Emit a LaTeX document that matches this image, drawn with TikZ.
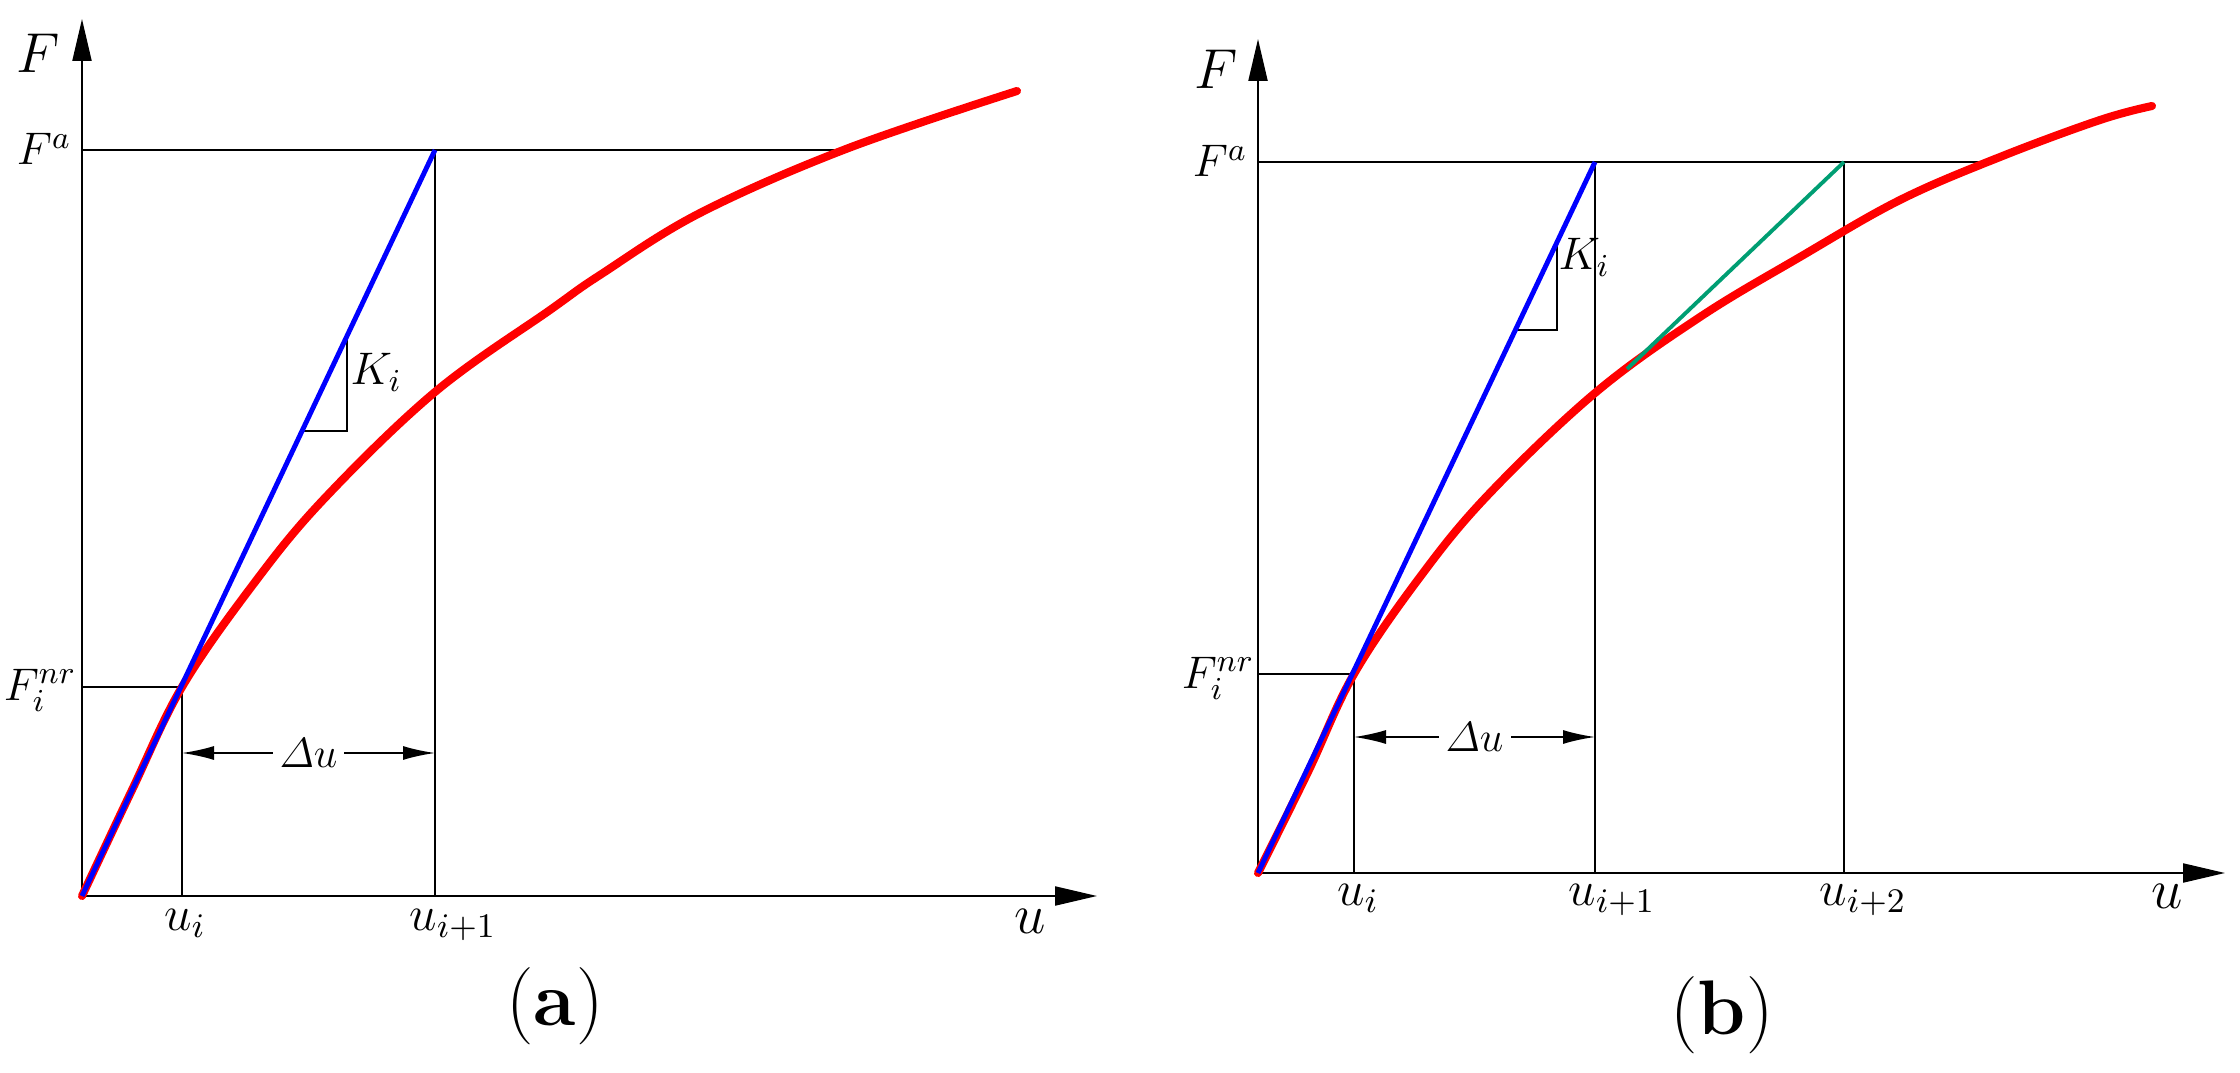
\documentclass[tikz,border=0pt]{standalone}
\usepackage{fix-cm}
\usepackage{amsmath}
\usepackage{xcolor}
\definecolor{rred}{HTML}{FF0000}
\definecolor{bblue}{HTML}{0000FF}
\definecolor{ggreen}{HTML}{009E73}
\usepackage{tikz}
\usetikzlibrary{arrows.meta}
\usetikzlibrary{positioning}

\tikzset{
  axis/.style={line width=0.6pt,-{Triangle[length=4.2mm,width=1.9mm]}},
  guide/.style={line width=0.5pt},
  dimline/.style={line width=0.5pt,{Latex[length=3.2mm,width=1.4mm]}-{Latex[length=3.2mm,width=1.4mm]}},
  curve/.style={rred,line width=2.3pt,line cap=round},
  tangent/.style={bblue,line width=1.4pt},
  secant/.style={ggreen,line width=1.1pt},
  lbl/.style={font=\fontsize{13}{15}\selectfont,inner sep=0pt},
  ulbl/.style={font=\fontsize{14}{16}\selectfont,inner sep=0pt,anchor=base},
  big/.style={font=\fontsize{16}{18}\selectfont,inner sep=0pt,anchor=base east},
  paneltag/.style={font=\fontsize{22}{24}\selectfont,inner sep=0pt,anchor=base},
}

\begin{document}
\begin{tikzpicture}[x=0.1mm,y=0.1mm]
\useasboundingbox (0,0) rectangle (2240,1072);

% (a)
\begin{scope}[shift={(82,176)}]
\coordinate (oa) at (0,0);
\coordinate (ya) at (0,877);
\coordinate (xa) at (1015,0);
\coordinate (uia) at (100,0);
\coordinate (pia) at (100,209);
\coordinate (fia) at (0,209);
\coordinate (uja) at (353,0);
\coordinate (tipa) at (353,746);
\coordinate (faa) at (0,746);
\coordinate (fenda) at (764,746);
\coordinate (dla) at (100,143);
\coordinate (dra) at (353,143);
\draw[axis] (oa) -- (ya);
\draw[axis] (oa) -- (xa);
\draw[guide] (faa) -- (fenda);
\draw[guide] (fia) -- (pia) -- (uia);
\draw[guide] (tipa) -- (uja);
\draw[guide] (220,465) -- (265,465) -- (265,560);
\draw[dimline] (dla) -- node[fill=white,inner sep=2pt,font=\fontsize{12}{14}\selectfont] (dua) {$\varDelta u$} (dra);
\draw[curve] plot[smooth,tension=0.6] coordinates {(0,0) (50,106) (100,209) (170,310) (241,396) (353,504) (468,586) (518,621) (618,683) (764,747) (935,805)};
\draw[tangent] (oa) -- (tipa);
\node[big] (Fa) at (-22,823) {$F$};
\node[lbl,anchor=base east] (Faa) at (-10,731) {$F^{a}$};
\node[lbl,anchor=base east] (Fnra) at (-5,196) {$F_i^{nr}$};
\node[lbl,anchor=base west] (Kia) at (268,511) {$K_i$};
\node[ulbl] (uilbla) at (103,-34) {$u_i$};
\node[ulbl] (ujlbla) at (371,-34) {$u_{i+1}$};
\node[ulbl,font=\fontsize{16}{18}\selectfont] (ulbla) at (948,-37) {$u$};
\node[paneltag] (taga) at (473,-129) {(\textbf{a})};
\end{scope}

% (b)
\begin{scope}[shift={(1258,199)}]
\coordinate (ob) at (0,0);
\coordinate (yb) at (0,834);
\coordinate (xb) at (967,0);
\coordinate (uib) at (96,0);
\coordinate (pib) at (96,199);
\coordinate (fib) at (0,199);
\coordinate (ujb) at (337,0);
\coordinate (tipb) at (337,711);
\coordinate (ukb) at (586,0);
\coordinate (tipc) at (586,711);
\coordinate (sec) at (369,504);
\coordinate (fab) at (0,711);
\coordinate (fendb) at (727,711);
\coordinate (dlb) at (96,136);
\coordinate (drb) at (337,136);
\draw[axis] (ob) -- (yb);
\draw[axis] (ob) -- (xb);
\draw[guide] (fab) -- (fendb);
\draw[guide] (fib) -- (pib) -- (uib);
\draw[guide] (tipb) -- (ujb);
\draw[guide] (tipc) -- (ukb);
\draw[guide] (258,543) -- (299,543) -- (299,633);
\draw[dimline] (dlb) -- node[fill=white,inner sep=2pt,font=\fontsize{12}{14}\selectfont] (dub) {$\varDelta u$} (drb);
\draw[curve] plot[smooth,tension=0.6] coordinates {(0,0) (50,101) (96,199) (162,296) (230,378) (337,480) (442,556) (542,616) (642,673) (742,716) (842,753) (894,767)};
\draw[secant] (sec) -- (tipc);
\draw[tangent] (ob) -- (tipb);
\node[big] (Fb) at (-20,784) {$F$};
\node[lbl,anchor=base east] (Fab) at (-10,696) {$F^{a}$};
\node[lbl,anchor=base east] (Fnrb) at (-3,185) {$F_i^{nr}$};
\node[lbl,anchor=base west] (Kib) at (300,603) {$K_i$};
\node[ulbl] (uilblb) at (100,-32) {$u_i$};
\node[ulbl] (ujlblb) at (354,-32) {$u_{i+1}$};
\node[ulbl] (uklblb) at (605,-32) {$u_{i+2}$};
\node[ulbl,font=\fontsize{16}{18}\selectfont] (ulblb) at (909,-35) {$u$};
\node[paneltag] (tagb) at (464,-161) {(\textbf{b})};
\end{scope}
\end{tikzpicture}
\end{document}
